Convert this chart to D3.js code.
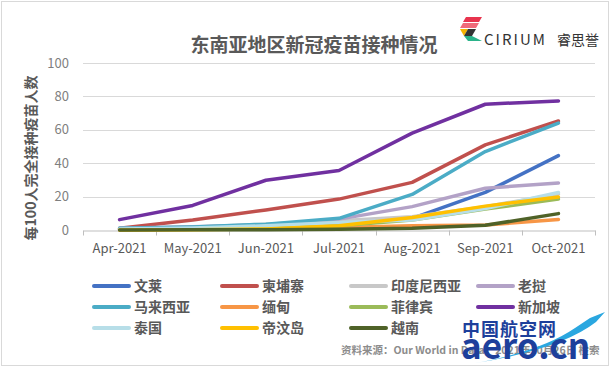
<!DOCTYPE html>
<html>
<head>
<meta charset="utf-8">
<script src="https://cdn.jsdelivr.net/npm/d3@7"></script>
<style>
  body { margin: 0; background: #fff; }
  svg text { font-family: "Noto Sans CJK SC", "Open Sans", sans-serif; }
</style>
</head>
<body>
<div id="chart"></div>
<script>
// month categories (x axis)
const months = ['Apr-2021', 'May-2021', 'Jun-2021', 'Jul-2021', 'Aug-2021', 'Sep-2021', 'Oct-2021']
const yTicks = [0, 20, 40, 60, 80, 100]

// fully vaccinated per 100 people
const brunei      = [0.5, 1, 2, 3.5, 7, 22.5, 44.5]
const cambodia    = [1, 6, 12, 18.5, 28.5, 51, 65.3]
const indonesia   = [1, 1.6, 3.5, 5.5, 8, 14, 21.5]
const laos        = [1, 2, 3, 6.5, 14, 25, 28.2]
const malaysia    = [1, 1.8, 3.5, 7, 21.3, 47, 64]
const myanmar     = [0.2, 0.4, 0.6, 1.5, 2.5, 3, 6.3]
const philippines = [0.3, 0.8, 1.5, 2.5, 6, 12.5, 18.5]
const singapore   = [6.2, 14.7, 29.8, 35.6, 58, 75.3, 77.3]
const thailand    = [0.6, 1.2, 2.5, 4.5, 6, 12.8, 22.5]
const timor       = [0, 0.2, 0.6, 2.5, 7.5, 14.3, 19.8]
const vietnam     = [0, 0.1, 0.2, 0.4, 1, 2.8, 9.8]

const names = ['文莱', '柬埔寨', '印度尼西亚', '老挝', '马来西亚', '缅甸', '菲律宾', '新加坡', '泰国', '帝汶岛', '越南']
const colors = ['#4472C4', '#C0504D', '#C8C8C8', '#B3A2C7', '#4BACC6', '#F79646', '#9BBB59', '#7030A0', '#B7DEE8', '#FFC000', '#4F6228']

const series = [brunei, cambodia, indonesia, laos, malaysia, myanmar, philippines, singapore, thailand, timor, vietnam]
    .map((values, i) => ({ name: names[i], color: colors[i], values }))

const width = 616
const height = 370
const margin = { top: 63, bottom: 140, left: 83, right: 21 }

const svg = d3.select('#chart')
    .append('svg')
    .attr('width', width)
    .attr('height', height)

// outer frame
svg.append('rect')
    .attr('x', 1.5).attr('y', 1.5)
    .attr('width', 607).attr('height', 364)
    .attr('fill', '#fff')
    .attr('stroke', '#d9d9d9')

const x = d3.scaleBand()
    .domain(months)
    .range([margin.left, width - margin.right])

const y = d3.scaleLinear()
    .domain([0, 100])
    .range([height - margin.bottom, margin.top])

// gridlines
svg.append('g')
    .selectAll('line')
    .data(yTicks.filter(d => d > 0))
    .join('line')
        .attr('x1', margin.left)
        .attr('x2', width - margin.right)
        .attr('y1', d => Math.round(y(d)) + 0.5)
        .attr('y2', d => Math.round(y(d)) + 0.5)
        .attr('stroke', '#d9d9d9')

// y axis (labels only)
function yAxis(g) {
    g.attr('transform', `translate(${margin.left}, 0)`)
        .call(d3.axisLeft(y).tickValues(yTicks).tickSize(0).tickPadding(14))
        .call(g => g.select('.domain').remove())
        .selectAll('text')
            .attr('font-size', '13px')
            .attr('fill', '#7f7f7f')
}

// x axis with ticks on band edges
function xAxis(g) {
    g.attr('transform', `translate(0, ${Math.round(y(0)) + 0.5})`)
        .call(d3.axisBottom(x).tickSize(0).tickPadding(13))
        .call(g => g.select('.domain').attr('stroke', '#bfbfbf'))
        .selectAll('text')
            .attr('font-size', '13px')
            .attr('fill', '#595959')
    g.selectAll('.edge')
        .data(months.map(m => x(m)).concat([width - margin.right]))
        .join('line')
            .attr('class', 'edge')
            .attr('x1', d => Math.round(d) + 0.5)
            .attr('x2', d => Math.round(d) + 0.5)
            .attr('y1', 0).attr('y2', 5)
            .attr('stroke', '#bfbfbf')
}

svg.append('g').call(yAxis)
svg.append('g').call(xAxis)

const line = d3.line()
    .x((d, i) => x(months[i]) + x.bandwidth() / 2)
    .y(d => y(d))

svg.append('g')
    .selectAll('path')
    .data(series)
    .join('path')
        .attr('d', d => line(d.values))
        .attr('fill', 'none')
        .attr('stroke', d => d.color)
        .attr('stroke-width', 3.5)
        .attr('stroke-linecap', 'round')
        .attr('stroke-linejoin', 'round')

// title
svg.append('text')
    .attr('x', 314).attr('y', 52)
    .attr('text-anchor', 'middle')
    .attr('font-size', '19px')
    .attr('font-weight', 'bold')
    .attr('fill', '#595959')
    .text('东南亚地区新冠疫苗接种情况')

// y axis title
svg.append('text')
    .attr('transform', 'translate(36, 158) rotate(-90)')
    .attr('text-anchor', 'middle')
    .attr('font-size', '14px')
    .attr('font-weight', 'bold')
    .attr('fill', '#595959')
    .text('每100人完全接种疫苗人数')

// legend, 4 columns
const colX = [94, 222, 351, 478]
const rowY = [286, 307, 328]
const legend = svg.append('g')
    .selectAll('g')
    .data(series)
    .join('g')
        .attr('transform', (d, i) => `translate(${colX[i % 4]}, ${rowY[Math.floor(i / 4)]})`)
legend.append('line')
    .attr('x1', 0).attr('x2', 35)
    .attr('stroke', d => d.color)
    .attr('stroke-width', 4)
    .attr('stroke-linecap', 'round')
legend.append('text')
    .attr('x', 40).attr('dy', '0.35em')
    .attr('font-size', '14px')
    .attr('font-weight', 'bold')
    .attr('fill', '#595959')
    .text(d => d.name)

// source line
svg.append('text')
    .attr('x', 341).attr('y', 354)
    .attr('font-size', '10.5px')
    .attr('font-weight', 'bold')
    .attr('fill', '#8c8c8c')
    .text('资料来源：Our World in Data，2021年10月26日 检索')

// CIRIUM logo
const logo = svg.append('g').attr('transform', 'translate(460, 17)')
logo.append('path').attr('d', 'M6 0 L22 0 L19 5 L3 5 Z').attr('fill', '#e8344e')
logo.append('path').attr('d', 'M3 6 L19 6 L16 11 L0 11 Z').attr('fill', '#f06a7a')
logo.append('path').attr('d', 'M0 12 L8 12 L4 19 Z').attr('fill', '#f5b400')
logo.append('path').attr('d', 'M8 12 L16 12 L12 19 L4 19 Z').attr('fill', '#333')
logo.append('path').attr('d', 'M4 19 L12 19 L22 24 L8 24 Z').attr('fill', '#2bb38a')
svg.append('text')
    .attr('x', 484).attr('y', 45)
    .attr('font-family', 'Open Sans, sans-serif')
    .attr('font-size', '15px')
    .attr('letter-spacing', '2px')
    .attr('fill', '#333')
    .text('CIRIUM')
svg.append('text')
    .attr('x', 557).attr('y', 45)
    .attr('font-size', '14px')
    .attr('fill', '#333')
    .text('睿思誉')

// watermark (covers part of the source line, as in the original)
svg.append('text')
    .attr('x', 462).attr('y', 336)
    .attr('font-size', '18px')
    .attr('font-weight', 'bold')
    .attr('letter-spacing', '1px')
    .attr('fill', '#1d3f9b')
    .text('中国航空网')
svg.append('path')
    .attr('d', 'M470 364 Q540 352 575 328 L590 318 L605 312 L596 322 Q560 350 470 364 Z')
    .attr('fill', '#2aa7e0')
svg.append('text')
    .attr('x', 461).attr('y', 359)
    .attr('font-family', 'DejaVu Sans, sans-serif')
    .attr('font-size', '35px')
    .attr('font-weight', 'bold')
    .attr('fill', '#1d3f9b')
    .text('aero.cn')
</script>
</body>
</html>
